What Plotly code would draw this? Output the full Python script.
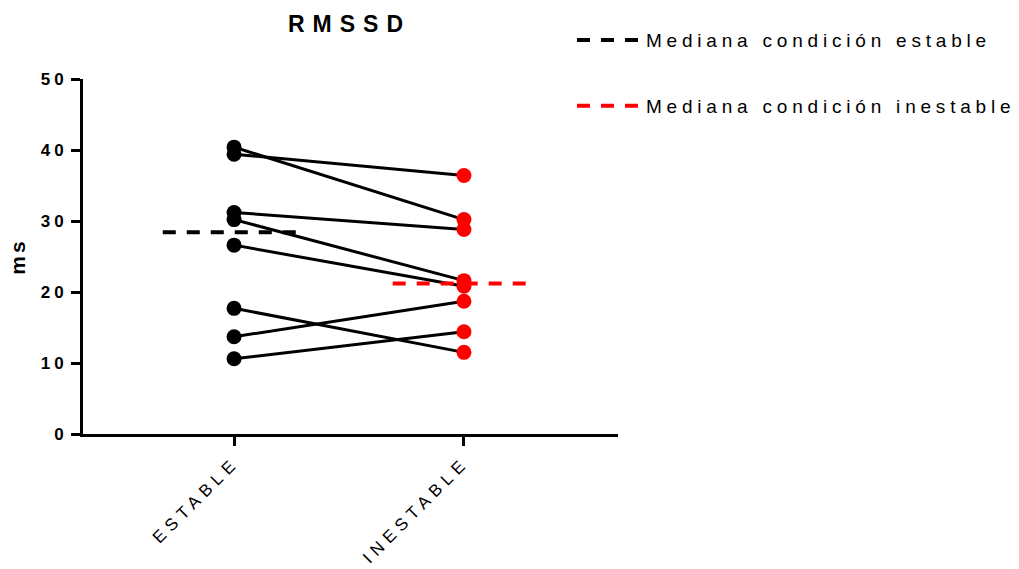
import numpy as np
import plotly.graph_objects as go

# Paired RMSSD values (ms) per subject in each condition
categories = ["ESTABLE", "INESTABLE"]
estable = [40.4, 39.4, 31.2, 30.2, 26.6, 17.7, 13.7, 10.6]
inestable = [30.2, 36.4, 28.8, 21.6, 20.8, 11.5, 18.7, 14.4]
y_ticks = [0, 10, 20, 30, 40, 50]

FONT = "Arial, 'Liberation Sans', sans-serif"
pos = list(range(len(categories)))

fig = go.Figure()

# one line per subject, connecting its two conditions
for a, b in zip(estable, inestable):
    fig.add_trace(go.Scatter(
        x=pos, y=[a, b], mode="lines+markers",
        line=dict(color="black", width=3),
        marker=dict(color=["black", "red"], size=15),
        showlegend=False, hoverinfo="y",
    ))

# medians of each condition as short dashed segments
half = 0.31
for i, (vals, color, name) in enumerate([
    (estable, "black", "Mediana condición estable"),
    (inestable, "red", "Mediana condición inestable"),
]):
    m = float(np.median(vals))
    fig.add_trace(go.Scatter(
        x=[pos[i] - half, pos[i] + half], y=[m, m], mode="lines",
        line=dict(color=color, width=4, dash="13px,11px"),
        name=name, legendgroup=name,
    ))

fig.update_layout(
    width=1019, height=569,
    margin=dict(l=83, r=401, t=79, b=135),
    plot_bgcolor="white", paper_bgcolor="white",
    font=dict(family=FONT, color="black"),
    title=dict(text="<b>RMSSD</b>", x=0.343, xanchor="center",
               y=0.958, yanchor="middle", font=dict(size=23)),
    showlegend=True,
    legend=dict(x=0.914, xanchor="left", y=1.163, yanchor="top",
                font=dict(size=19), tracegroupgap=38, itemwidth=64,
                bgcolor="rgba(0,0,0,0)"),
)

fig.update_xaxes(
    range=[-0.657, 1.67], tickvals=pos, ticktext=categories,
    tickangle=-45, tickfont=dict(size=17),
    showline=True, linewidth=3, linecolor="black",
    ticks="outside", ticklen=9, tickwidth=3, tickcolor="black",
    showgrid=False, zeroline=False,
)
fig.update_yaxes(
    range=[0, 50], tickvals=y_ticks,
    tickfont=dict(size=17, weight="bold"),
    showline=True, linewidth=3, linecolor="black",
    ticks="outside", ticklen=9, tickwidth=3, tickcolor="black",
    showgrid=False, zeroline=False,
    title=dict(text="<b>ms</b>", font=dict(size=21), standoff=18),
)

# letter spacing for all text; the legend box is not clipped so the
# wider legend labels stay whole
spacing_css = (
    "<style>"
    ".gtitle{letter-spacing:8px}"
    ".legendtext{letter-spacing:4.8px}"
    ".xtick text{letter-spacing:5.5px}"
    ".ytick text{letter-spacing:4px}"
    ".ytitle{letter-spacing:3px}"
    ".legend .scrollbox{clip-path:none !important}"
    "</style>"
)
post = "document.head.insertAdjacentHTML('beforeend', '%s');" % spacing_css

fig.write_html("out.html", post_script=post)
